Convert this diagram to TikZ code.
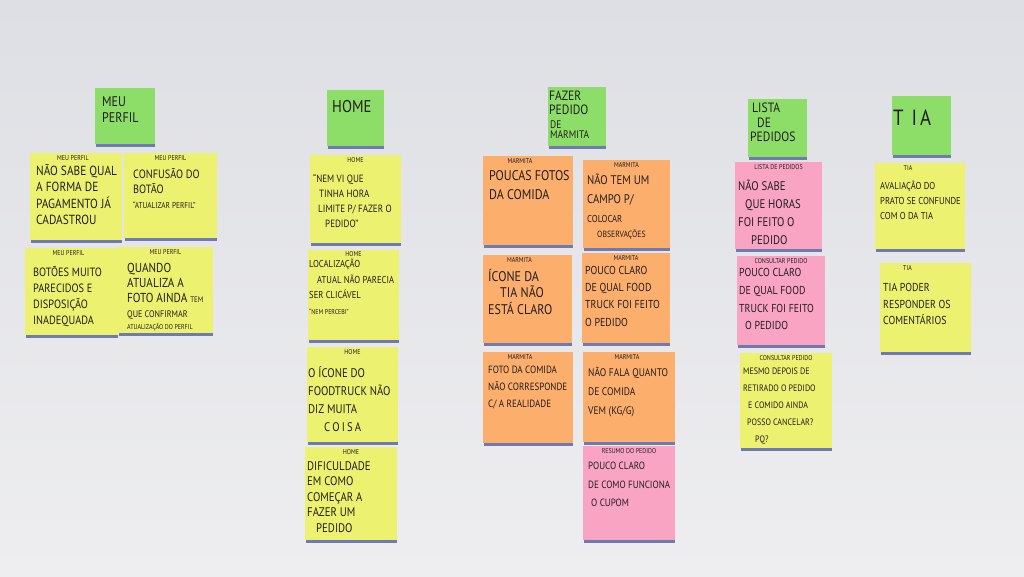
\documentclass[tikz,border=0pt]{standalone}
\usepackage{fontspec}
\setmainfont{PT Sans}
\newfontfamily\hand[FakeStretch=0.86]{PT Sans}
\definecolor{wallA}{RGB}{222,223,228}
\definecolor{wallB}{RGB}{238,238,240}
\definecolor{ylw}{RGB}{237,241,112}
\definecolor{grn}{RGB}{140,222,104}
\definecolor{org}{RGB}{252,174,108}
\definecolor{pnk}{RGB}{250,164,196}
\definecolor{edgec}{RGB}{112,122,178}
\definecolor{ink}{RGB}{35,30,32}
\newcommand\notebase[1]{\fill[edgec] ([xshift=1pt]#1.south west) rectangle ([yshift=-2.5pt]#1.south east);}
\begin{document}
\begin{tikzpicture}[x=1pt,y=-1pt,
  note/.style={draw=none, inner sep=0pt},
  tag/.style={font=\hand\fontsize{7}{8}\selectfont, text=ink, inner sep=0pt, anchor=north},
  fs/.style 2 args={font=\hand\fontsize{#1}{#2}\selectfont},
  body/.style={text=ink, align=left, inner sep=0pt, anchor=north west, execute at begin node={\vphantom{Ã}}},
  htxt/.style={text=ink, align=left, inner sep=0pt, anchor=north west}]
\shade[top color=wallA, bottom color=wallB] (0,0) rectangle (1024,576);
\useasboundingbox (0,0) rectangle (1024,576);

% ---------- headers ----------
\node[note, fill=grn, minimum width=60pt, minimum height=56pt] (hmp) at (125,116) {};
\notebase{hmp}
\node[htxt, fs={14}{16}] (hmpt) at (102,96) {MEU\\PERFIL};

\node[note, fill=grn, minimum width=57pt, minimum height=56pt] (hho) at (355.5,118) {};
\notebase{hho}
\node[htxt, fs={17}{18}] (hhot) at (332,100) {HOME};

\node[note, fill=grn, minimum width=58pt, minimum height=59pt] (hfa) at (577,116.5) {};
\notebase{hfa}
\node[htxt, fs={13.5}{13.5}] (hfat) at (549,91) {FAZER\\PEDIDO};
\node[htxt, fs={11}{10}] (hfat2) at (550,121) {DE\\MARMITA};

\node[note, fill=grn, minimum width=59pt, minimum height=58pt] (hli) at (777.5,128) {};
\notebase{hli}
\node[htxt, fs={13.5}{14.5}] (hlit) at (750,103) {\hspace*{2pt}LISTA\\\hspace*{7pt}DE\\PEDIDOS};

\node[note, fill=grn, minimum width=59pt, minimum height=59pt] (hti) at (921.5,125.5) {};
\notebase{hti}
\node[htxt, fs={22}{24}] (htit) at (893,110) {T\hspace{8pt}I\hspace{3pt}A};

% ---------- MEU PERFIL ----------
\node[note, fill=ylw, minimum width=92pt, minimum height=87pt] (mp1) at (76,196.5) {};
\notebase{mp1}
\node[tag] (mp1t) at ([xshift=-3pt,yshift=-3pt]mp1.north) {MEU PERFIL};
\node[body, fs={13.2}{16.5}] (mp1b) at (36,164) {NÃO SABE QUAL\\A FORMA DE\\PAGAMENTO JÁ\\CADASTROU};

\node[note, fill=ylw, minimum width=93pt, minimum height=85pt] (mp2) at (170.5,195.5) {};
\notebase{mp2}
\node[tag] (mp2t) at ([yshift=-3pt]mp2.north) {MEU PERFIL};
\node[body, fs={12}{15}] (mp2b) at (133,168) {CONFUSÃO DO\\BOTÃO\\{\fontsize{8.5}{15}\selectfont “ATUALIZAR PERFIL”}};

\node[note, fill=ylw, minimum width=93pt, minimum height=87pt] (mp3) at (71.5,291.5) {};
\notebase{mp3}
\node[tag] (mp3t) at ([xshift=-3pt,yshift=-3pt]mp3.north) {MEU PERFIL};
\node[body, fs={12}{16}] (mp3b) at (33,266) {BOTÕES MUITO\\PARECIDOS E\\DISPOSIÇÃO\\INADEQUADA};

\node[note, fill=ylw, minimum width=95pt, minimum height=86pt] (mp4) at (165.5,290) {};
\notebase{mp4}
\node[tag] (mp4t) at ([yshift=-3pt]mp4.north) {MEU PERFIL};
\node[body, fs={13}{15}] (mp4b) at (127,263) {QUANDO\\ATUALIZA A\\FOTO AINDA {\fontsize{8}{15}\selectfont TEM}\\{\fontsize{9.5}{15}\selectfont QUE CONFIRMAR}\\[-3pt]{\fontsize{7}{12}\selectfont ATUALIZAÇÃO DO PERFIL}};

% ---------- HOME ----------
\node[note, fill=ylw, minimum width=91pt, minimum height=88pt] (ho1) at (355.5,199) {};
\notebase{ho1}
\node[tag] (ho1t) at ([yshift=-3pt]ho1.north) {HOME};
\node[body, fs={10.5}{15}] (ho1b) at (313,174) {“NEM VI QUE\\\hspace*{6pt}TINHA HORA\\\hspace*{5pt}LIMITE P/ FAZER O\\\hspace*{12pt}PEDIDO”};

\node[note, fill=ylw, minimum width=91pt, minimum height=90pt] (ho2) at (353.5,295) {};
\notebase{ho2}
\node[tag] (ho2t) at ([yshift=-2pt]ho2.north) {HOME};
\node[body, fs={10}{15.5}] (ho2b) at (309,259) {LOCALIZAÇÃO\\\hspace*{8pt}ATUAL NÃO PARECIA\\SER CLICÁVEL\\{\fontsize{7}{15.5}\selectfont “NEM PERCEBI”}};

\node[note, fill=ylw, minimum width=91pt, minimum height=95pt] (ho3) at (352.5,394.5) {};
\notebase{ho3}
\node[tag] (ho3t) at ([yshift=-3pt]ho3.north) {HOME};
\node[body, fs={12.5}{18}] (ho3b) at (308,366) {O ÍCONE DO\\FOODTRUCK NÃO\\DIZ MUITA\\\hspace*{16pt}C\,O\,I\,S\,A};

\node[note, fill=ylw, minimum width=92pt, minimum height=93pt] (ho4) at (351,493.5) {};
\notebase{ho4}
\node[tag] (ho4t) at ([yshift=-3pt]ho4.north) {HOME};
\node[body, fs={12.5}{15.5}] (ho4b) at (307,461) {DIFICULDADE\\EM COMO\\COMEÇAR A\\FAZER UM\\\hspace*{9pt}PEDIDO};

% ---------- MARMITA ----------
\node[note, fill=org, minimum width=90pt, minimum height=89pt] (ma1) at (528,200.5) {};
\notebase{ma1}
\node[tag] (ma1t) at ([xshift=-8pt,yshift=-3pt]ma1.north) {MARMITA};
\node[body, fs={14}{19}] (ma1b) at (489,170) {POUCAS FOTOS\\DA COMIDA};

\node[note, fill=org, minimum width=87pt, minimum height=88pt] (ma2) at (626.5,204) {};
\notebase{ma2}
\node[tag] (ma2t) at ([yshift=-3pt]ma2.north) {MARMITA};
\node[body, fs={12.5}{19}] (ma2b) at (587,174) {NÃO TEM UM\\CAMPO P/\\{\fontsize{10}{15}\selectfont COLOCAR}\\[-4pt]\hspace*{10pt}{\fontsize{9}{12}\selectfont OBSERVAÇÕES}};

\node[note, fill=org, minimum width=89pt, minimum height=88pt] (ma3) at (527.5,299) {};
\notebase{ma3}
\node[tag] (ma3t) at ([xshift=-8pt,yshift=-3pt]ma3.north) {MARMITA};
\node[body, fs={14}{16.5}] (ma3b) at (488,269) {ÍCONE DA\\\hspace*{12pt}TIA NÃO\\ESTÁ CLARO};

\node[note, fill=org, minimum width=88pt, minimum height=90pt] (ma4) at (626,298) {};
\notebase{ma4}
\node[tag] (ma4t) at ([yshift=-3pt]ma4.north) {MARMITA};
\node[body, fs={11.5}{17.3}] (ma4b) at (585,266) {POUCO CLARO\\DE QUAL FOOD\\TRUCK FOI FEITO\\O PEDIDO};

\node[note, fill=org, minimum width=90pt, minimum height=91pt] (ma5) at (528,397.5) {};
\notebase{ma5}
\node[tag] (ma5t) at ([xshift=-8pt,yshift=-3pt]ma5.north) {MARMITA};
\node[body, fs={10.5}{17}] (ma5b) at (488,366) {FOTO DA COMIDA\\NÃO CORRESPONDE\\C/ A REALIDADE};

\node[note, fill=org, minimum width=92pt, minimum height=90pt] (ma6) at (629,397) {};
\notebase{ma6}
\node[tag] (ma6t) at ([xshift=-2pt,yshift=-3pt]ma6.north) {MARMITA};
\node[body, fs={11}{19}] (ma6b) at (588,367.5) {NÃO FALA QUANTO\\DE COMIDA\\VEM (KG/G)};

\node[note, fill=pnk, minimum width=92pt, minimum height=94pt] (ma7) at (629,493) {};
\notebase{ma7}
\node[tag] (ma7t) at ([yshift=-3pt]ma7.north) {RESUMO DO PEDIDO};
\node[body, fs={10.5}{18.5}] (ma7b) at (588,462) {POUCO CLARO\\DE COMO FUNCIONA\\\hspace*{3pt}O CUPOM};

% ---------- LISTA DE PEDIDOS ----------
\node[note, fill=pnk, minimum width=87pt, minimum height=87pt] (li1) at (778.5,205.5) {};
\notebase{li1}
\node[tag] (li1t) at ([yshift=-3pt]li1.north) {LISTA DE PEDIDOS};
\node[body, fs={12.5}{18}] (li1b) at (738,180) {NÃO SABE\\\hspace*{7pt}QUE HORAS\\FOI FEITO O\\\hspace*{13pt}PEDIDO};

\node[note, fill=pnk, minimum width=88pt, minimum height=89pt] (li2) at (781,300.5) {};
\notebase{li2}
\node[tag] (li2t) at ([yshift=-3pt]li2.north) {CONSULTAR PEDIDO};
\node[body, fs={11.5}{17.7}] (li2b) at (739,268.5) {POUCO CLARO\\DE QUAL FOOD\\TRUCK FOI FEITO\\\hspace*{6pt}O PEDIDO};

\node[note, fill=ylw, minimum width=92pt, minimum height=95pt] (li3) at (786,400.5) {};
\notebase{li3}
\node[tag] (li3t) at ([yshift=-3pt]li3.north) {CONSULTAR PEDIDO};
\node[body, fs={9.3}{17}] (li3b) at (743,367.6) {MESMO DEPOIS DE\\RETIRADO O PEDIDO\\\hspace*{5pt}E COMIDO AINDA\\\hspace*{4pt}POSSO CANCELAR?\\\hspace*{12pt}PQ?};

% ---------- TIA ----------
\node[note, fill=ylw, minimum width=90pt, minimum height=86pt] (ti1) at (920,206) {};
\notebase{ti1}
\node[tag] (ti1t) at ([xshift=-12pt,yshift=-3pt]ti1.north) {TIA};
\node[body, fs={10}{15}] (ti1b) at (880,181) {AVALIAÇÃO DO\\PRATO SE CONFUNDE\\COM O DA TIA};

\node[note, fill=ylw, minimum width=91pt, minimum height=89pt] (ti2) at (925.5,307.5) {};
\notebase{ti2}
\node[tag] (ti2t) at ([xshift=-18pt,yshift=-3pt]ti2.north) {TIA};
\node[body, fs={11.5}{16.5}] (ti2b) at (883,283.4) {TIA PODER\\RESPONDER OS\\COMENTÁRIOS};
\end{tikzpicture}
\end{document}
